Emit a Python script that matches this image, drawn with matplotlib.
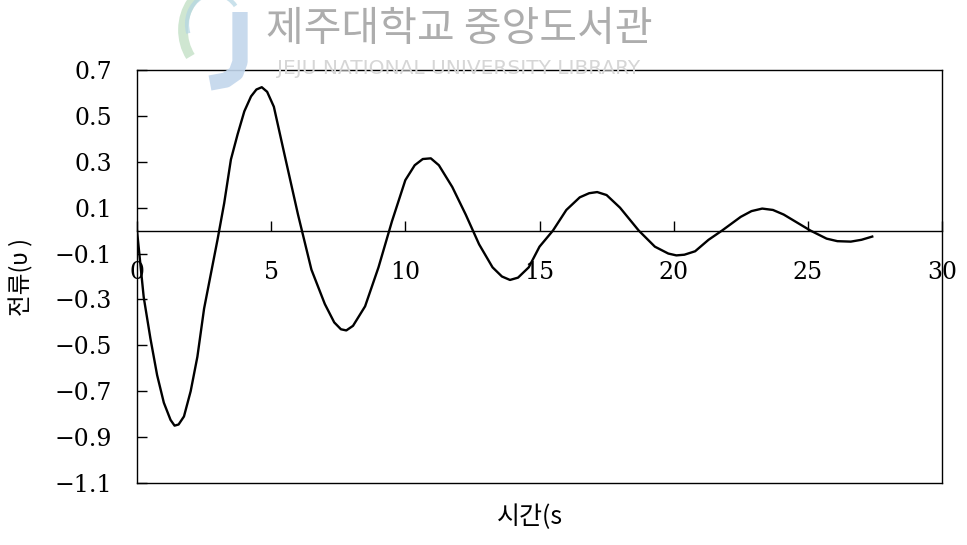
import matplotlib.pyplot as plt
from matplotlib.patches import Arc

# values
time_s = [0, 0.25, 0.5, 0.75, 1.0, 1.25, 1.4, 1.55, 1.75, 2.0, 2.25, 2.5,
          2.75, 3.0, 3.25, 3.5, 3.75, 4.0, 4.25, 4.45, 4.65, 4.85, 5.1, 5.5,
          6.0, 6.5, 7.0, 7.35, 7.6, 7.8, 8.05, 8.5, 9.0, 9.5, 10.0, 10.35,
          10.65, 10.95, 11.25, 11.75, 12.25, 12.75, 13.25, 13.6, 13.9, 14.2,
          14.6, 15.0, 15.5, 16.0, 16.5, 16.85, 17.15, 17.5, 18.0, 18.7,
          19.3, 19.8, 20.1, 20.4, 20.8, 21.3, 21.8, 22.5, 22.9, 23.3, 23.7,
          24.1, 24.6, 25.1, 25.7, 26.1, 26.6, 27.0, 27.4]
current = [0, -0.29, -0.47, -0.63, -0.75, -0.825, -0.85, -0.845, -0.81,
           -0.70, -0.55, -0.34, -0.19, -0.04, 0.12, 0.31, 0.42, 0.52, 0.585,
           0.615, 0.625, 0.605, 0.54, 0.33, 0.07, -0.17, -0.32, -0.40,
           -0.43, -0.435, -0.415, -0.33, -0.16, 0.04, 0.22, 0.285, 0.312,
           0.315, 0.285, 0.19, 0.07, -0.06, -0.16, -0.2, -0.215, -0.205,
           -0.16, -0.07, 0.0, 0.09, 0.145, 0.163, 0.168, 0.155, 0.1, 0.0,
           -0.07, -0.1, -0.108, -0.105, -0.09, -0.04, 0.0, 0.06, 0.085,
           0.096, 0.09, 0.07, 0.035, 0.0, -0.035, -0.046, -0.048, -0.04,
           -0.026]

x_ticks = [0, 5, 10, 15, 20, 25, 30]
y_ticks = [0.7, 0.5, 0.3, 0.1, -0.1, -0.3, -0.5, -0.7, -0.9, -1.1]
x_label = "시간(s"
y_label = "전류(υ )"
watermark_kr = "제주대학교 중앙도서관"
watermark_en = "JEJU NATIONAL UNIVERSITY LIBRARY"

num_font = 'DejaVu Serif'
kr_font = ['Noto Sans CJK KR', 'DejaVu Sans']

W, H = 967, 545
fig = plt.figure(figsize=(W / 100, H / 100), dpi=100)
fig.patch.set_facecolor('white')

# plot box in pixels: left 137, right 942, top 70, bottom 483
ax = fig.add_axes([137 / W, 1 - 483 / H, (942 - 137) / W, (483 - 70) / H])
ax.plot(time_s, current, color='black', lw=1.7, solid_joinstyle='round')
ax.set_xlim(0, 30)
ax.set_ylim(-1.1, 0.7)
ax.set_xticks([])
ax.set_yticks(y_ticks)
ax.set_yticklabels([f'{v:.1f}'.replace('-', '\u2212') for v in y_ticks],
                   family=num_font, fontsize=17)
ax.tick_params(axis='y', direction='in', length=7, width=1, pad=18)
for sp in ax.spines.values():
    sp.set_linewidth(1)

# x axis drawn through zero
sec = ax.secondary_xaxis(1.1 / 1.8)
sec.set_alignment('bottom')
sec.set_xticks(x_ticks)
sec.set_xticklabels([str(v) for v in x_ticks], family=num_font, fontsize=17)
sec.tick_params(direction='in', length=7, width=1, pad=22)
sec.spines['bottom'].set_linewidth(1)

ax.set_ylabel(y_label, family=kr_font, fontsize=17)
ax.yaxis.set_label_coords(-0.129, 0.5)
ax.set_xlabel(x_label, family=kr_font, fontsize=18)
ax.xaxis.set_label_coords(0.488, -0.05)

# watermark overlay
ov = fig.add_axes([0, 0, 1, 1], zorder=5)
ov.set_xlim(0, W)
ov.set_ylim(H, 0)
ov.axis('off')
ov.patch.set_visible(False)
ov.add_patch(Arc((222, 30), 78, 90, theta1=140, theta2=290,
                 color='#c3e0c6', lw=7, alpha=0.8))
ov.add_patch(Arc((214, 24), 54, 60, theta1=160, theta2=320,
                 color='#b3d5e3', lw=3, alpha=0.7))
ov.plot([240, 240, 236, 226, 210], [12, 62, 73, 80, 83],
        color='#c2d6ec', lw=11, solid_capstyle='butt', alpha=0.9)
ov.text(266, 30, watermark_kr, family=kr_font, fontsize=29.5,
        color='#adadad', ha='left', va='center')
ov.text(277, 69, watermark_en, family='DejaVu Sans', fontsize=14.5,
        color='#d6d6d6', ha='left', va='center')

fig.savefig('out.png', dpi=100)
